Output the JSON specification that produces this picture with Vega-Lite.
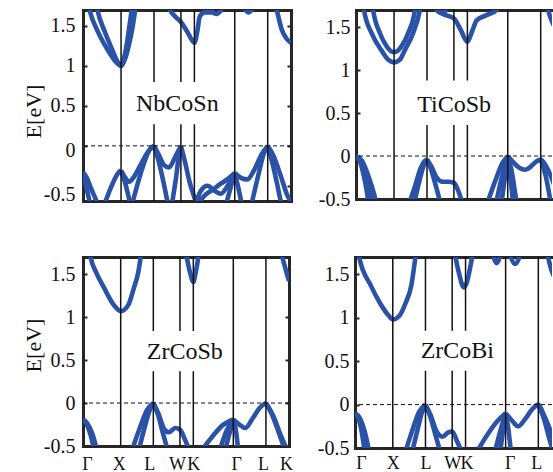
{
"$schema": "https://vega.github.io/schema/vega-lite/v6.json",
"padding": {"left": 22, "top": 9, "right": 0, "bottom": 0},
"config": {"view": {"stroke": null}, "font": "Liberation Serif",
  "axis": {"labelFont": "Liberation Serif", "titleFont": "Liberation Serif", "labelColor": "#111", "titleColor": "#111", "grid": false, "domainColor": "#262626", "domainWidth": 3, "domainCap": "square", "tickColor": "#262626", "tickWidth": 2}},
"datasets": {
"sym": [{"k":1},{"k":1.866},{"k":2.573},{"k":2.927},{"k":3.988},{"k":4.854}],
"nb": [
{"b":"c1","k":0.12,"e":1.8},{"b":"c1","k":0.17,"e":1.7},{"b":"c1","k":0.4,"e":1.42},{"b":"c1","k":0.65,"e":1.2},{"b":"c1","k":0.85,"e":1.06},{"b":"c1","k":1.0,"e":1.0},{"b":"c1","k":1.1,"e":1.08},{"b":"c1","k":1.2,"e":1.25},{"b":"c1","k":1.3,"e":1.48},{"b":"c1","k":1.37,"e":1.7},{"b":"c1","k":1.4,"e":1.8},
{"b":"c2","k":0.34,"e":1.8},{"b":"c2","k":0.38,"e":1.7},{"b":"c2","k":0.58,"e":1.42},{"b":"c2","k":0.77,"e":1.2},{"b":"c2","k":0.9,"e":1.06},{"b":"c2","k":1.0,"e":1.0},{"b":"c2","k":1.08,"e":1.1},{"b":"c2","k":1.16,"e":1.3},{"b":"c2","k":1.22,"e":1.5},{"b":"c2","k":1.28,"e":1.7},{"b":"c2","k":1.31,"e":1.8},
{"b":"c3","k":2.22,"e":1.8},{"b":"c3","k":2.29,"e":1.7},{"b":"c3","k":2.42,"e":1.62},{"b":"c3","k":2.573,"e":1.55},{"b":"c3","k":2.75,"e":1.42},{"b":"c3","k":2.927,"e":1.29},{"b":"c3","k":3.0,"e":1.42},{"b":"c3","k":3.07,"e":1.62},{"b":"c3","k":3.2,"e":1.67},{"b":"c3","k":3.4,"e":1.67},{"b":"c3","k":3.5,"e":1.65},{"b":"c3","k":3.6,"e":1.68},{"b":"c3","k":3.7,"e":1.75},
{"b":"c4","k":4.2,"e":1.75},{"b":"c4","k":4.35,"e":1.67},{"b":"c4","k":4.5,"e":1.75},
{"b":"c5","k":5.0,"e":1.85},{"b":"c5","k":5.09,"e":1.7},{"b":"c5","k":5.22,"e":1.46},{"b":"c5","k":5.35,"e":1.34},{"b":"c5","k":5.466,"e":1.29},
{"b":"v1","k":0,"e":-0.33},{"b":"v1","k":0.1,"e":-0.4},{"b":"v1","k":0.2,"e":-0.52},{"b":"v1","k":0.3,"e":-0.63},{"b":"v1","k":0.4,"e":-0.75},
{"b":"v2","k":0,"e":-0.36},{"b":"v2","k":0.08,"e":-0.5},{"b":"v2","k":0.15,"e":-0.65},{"b":"v2","k":0.2,"e":-0.75},
{"b":"v3","k":0.55,"e":-0.75},{"b":"v3","k":0.7,"e":-0.56},{"b":"v3","k":0.85,"e":-0.4},{"b":"v3","k":0.94,"e":-0.33},{"b":"v3","k":1.0,"e":-0.31},
{"b":"v4","k":1.0,"e":-0.31},{"b":"v4","k":1.1,"e":-0.39},{"b":"v4","k":1.21,"e":-0.45},{"b":"v4","k":1.35,"e":-0.38},{"b":"v4","k":1.5,"e":-0.25},{"b":"v4","k":1.7,"e":-0.08},{"b":"v4","k":1.866,"e":0},
{"b":"v5","k":1.0,"e":-0.31},{"b":"v5","k":1.1,"e":-0.45},{"b":"v5","k":1.18,"e":-0.6},{"b":"v5","k":1.25,"e":-0.75},
{"b":"v6","k":1.28,"e":-0.75},{"b":"v6","k":1.45,"e":-0.45},{"b":"v6","k":1.6,"e":-0.22},{"b":"v6","k":1.75,"e":-0.05},{"b":"v6","k":1.866,"e":0},
{"b":"v7","k":1.866,"e":0},{"b":"v7","k":2.0,"e":-0.12},{"b":"v7","k":2.13,"e":-0.24},{"b":"v7","k":2.26,"e":-0.27},{"b":"v7","k":2.42,"e":-0.14},{"b":"v7","k":2.573,"e":0},
{"b":"v8","k":1.866,"e":0},{"b":"v8","k":1.98,"e":-0.18},{"b":"v8","k":2.1,"e":-0.42},{"b":"v8","k":2.24,"e":-0.75},
{"b":"v9","k":2.33,"e":-0.75},{"b":"v9","k":2.45,"e":-0.38},{"b":"v9","k":2.52,"e":-0.12},{"b":"v9","k":2.573,"e":0},
{"b":"v10","k":2.573,"e":0},{"b":"v10","k":2.68,"e":-0.2},{"b":"v10","k":2.8,"e":-0.45},{"b":"v10","k":2.93,"e":-0.65},{"b":"v10","k":3.0,"e":-0.75},
{"b":"v11","k":2.96,"e":-0.72},{"b":"v11","k":3.1,"e":-0.56},{"b":"v11","k":3.27,"e":-0.5},{"b":"v11","k":3.45,"e":-0.56},{"b":"v11","k":3.62,"e":-0.6},{"b":"v11","k":3.8,"e":-0.5},{"b":"v11","k":3.988,"e":-0.34},
{"b":"v12","k":2.98,"e":-0.75},{"b":"v12","k":3.2,"e":-0.62},{"b":"v12","k":3.44,"e":-0.54},{"b":"v12","k":3.6,"e":-0.48},{"b":"v12","k":3.79,"e":-0.42},{"b":"v12","k":3.988,"e":-0.34},
{"b":"v13","k":3.75,"e":-0.75},{"b":"v13","k":3.88,"e":-0.52},{"b":"v13","k":3.988,"e":-0.34},
{"b":"v14","k":3.988,"e":-0.34},{"b":"v14","k":4.08,"e":-0.52},{"b":"v14","k":4.18,"e":-0.75},
{"b":"v15","k":3.988,"e":-0.34},{"b":"v15","k":4.15,"e":-0.4},{"b":"v15","k":4.32,"e":-0.42},{"b":"v15","k":4.5,"e":-0.3},{"b":"v15","k":4.7,"e":-0.1},{"b":"v15","k":4.854,"e":0},
{"b":"v16","k":4.42,"e":-0.75},{"b":"v16","k":4.6,"e":-0.38},{"b":"v16","k":4.75,"e":-0.1},{"b":"v16","k":4.854,"e":0},
{"b":"v17","k":4.854,"e":0},{"b":"v17","k":5.0,"e":-0.12},{"b":"v17","k":5.2,"e":-0.38},{"b":"v17","k":5.37,"e":-0.62},{"b":"v17","k":5.466,"e":-0.7},
{"b":"v18","k":4.854,"e":0},{"b":"v18","k":4.98,"e":-0.22},{"b":"v18","k":5.12,"e":-0.52},{"b":"v18","k":5.22,"e":-0.75}
],
"ti": [
{"b":"c1","k":0.18,"e":1.8},{"b":"c1","k":0.21,"e":1.7},{"b":"c1","k":0.41,"e":1.43},{"b":"c1","k":0.67,"e":1.23},{"b":"c1","k":0.85,"e":1.12},{"b":"c1","k":1.0,"e":1.09},{"b":"c1","k":1.15,"e":1.12},{"b":"c1","k":1.28,"e":1.23},{"b":"c1","k":1.5,"e":1.43},{"b":"c1","k":1.68,"e":1.7},{"b":"c1","k":1.72,"e":1.8},
{"b":"c2","k":0.42,"e":1.8},{"b":"c2","k":0.45,"e":1.7},{"b":"c2","k":0.63,"e":1.43},{"b":"c2","k":0.8,"e":1.28},{"b":"c2","k":0.92,"e":1.22},{"b":"c2","k":1.0,"e":1.21},{"b":"c2","k":1.08,"e":1.22},{"b":"c2","k":1.2,"e":1.28},{"b":"c2","k":1.37,"e":1.43},{"b":"c2","k":1.55,"e":1.7},{"b":"c2","k":1.58,"e":1.8},
{"b":"c3","k":2.05,"e":1.8},{"b":"c3","k":2.12,"e":1.7},{"b":"c3","k":2.3,"e":1.65},{"b":"c3","k":2.573,"e":1.6},{"b":"c3","k":2.75,"e":1.47},{"b":"c3","k":2.927,"e":1.33},{"b":"c3","k":3.05,"e":1.45},{"b":"c3","k":3.17,"e":1.58},{"b":"c3","k":3.43,"e":1.64},{"b":"c3","k":3.7,"e":1.7},{"b":"c3","k":3.78,"e":1.8},
{"b":"c4","k":2.15,"e":1.75},{"b":"c4","k":2.28,"e":1.66},{"b":"c4","k":2.42,"e":1.75},
{"b":"c5","k":5.0,"e":1.8},{"b":"c5","k":5.05,"e":1.7},{"b":"c5","k":5.12,"e":1.6},{"b":"c5","k":5.2,"e":1.52},{"b":"c5","k":5.32,"e":1.42},{"b":"c5","k":5.466,"e":1.35},
{"b":"v1","k":0,"e":0},{"b":"v1","k":0.1,"e":-0.06},{"b":"v1","k":0.2,"e":-0.22},{"b":"v1","k":0.28,"e":-0.4},{"b":"v1","k":0.33,"e":-0.55},
{"b":"v2","k":0,"e":0},{"b":"v2","k":0.12,"e":-0.06},{"b":"v2","k":0.25,"e":-0.22},{"b":"v2","k":0.35,"e":-0.38},{"b":"v2","k":0.44,"e":-0.55},
{"b":"v3","k":0,"e":0},{"b":"v3","k":0.15,"e":-0.05},{"b":"v3","k":0.3,"e":-0.2},{"b":"v3","k":0.42,"e":-0.36},{"b":"v3","k":0.54,"e":-0.55},
{"b":"v4","k":1.4,"e":-0.55},{"b":"v4","k":1.55,"e":-0.35},{"b":"v4","k":1.7,"e":-0.14},{"b":"v4","k":1.8,"e":-0.06},{"b":"v4","k":1.866,"e":-0.04},
{"b":"v5","k":1.53,"e":-0.55},{"b":"v5","k":1.65,"e":-0.32},{"b":"v5","k":1.77,"e":-0.12},{"b":"v5","k":1.866,"e":-0.04},
{"b":"v6","k":1.866,"e":-0.04},{"b":"v6","k":1.97,"e":-0.15},{"b":"v6","k":2.1,"e":-0.35},{"b":"v6","k":2.22,"e":-0.55},
{"b":"v7","k":1.866,"e":-0.04},{"b":"v7","k":1.98,"e":-0.12},{"b":"v7","k":2.12,"e":-0.25},{"b":"v7","k":2.28,"e":-0.3},{"b":"v7","k":2.42,"e":-0.3},{"b":"v7","k":2.573,"e":-0.31},{"b":"v7","k":2.7,"e":-0.42},{"b":"v7","k":2.8,"e":-0.55},
{"b":"v8","k":3.45,"e":-0.55},{"b":"v8","k":3.65,"e":-0.3},{"b":"v8","k":3.85,"e":-0.08},{"b":"v8","k":3.988,"e":0},
{"b":"v9","k":3.68,"e":-0.55},{"b":"v9","k":3.83,"e":-0.25},{"b":"v9","k":3.988,"e":0},
{"b":"v10","k":3.82,"e":-0.55},{"b":"v10","k":3.91,"e":-0.26},{"b":"v10","k":3.988,"e":0},
{"b":"v11","k":3.988,"e":0},{"b":"v11","k":4.05,"e":-0.22},{"b":"v11","k":4.13,"e":-0.55},
{"b":"v12","k":3.988,"e":0},{"b":"v12","k":4.08,"e":-0.15},{"b":"v12","k":4.22,"e":-0.55},
{"b":"v13","k":3.988,"e":0},{"b":"v13","k":4.15,"e":-0.08},{"b":"v13","k":4.3,"e":-0.14},{"b":"v13","k":4.45,"e":-0.16},{"b":"v13","k":4.6,"e":-0.12},{"b":"v13","k":4.75,"e":-0.06},{"b":"v13","k":4.854,"e":-0.04},{"b":"v13","k":5.0,"e":-0.12},{"b":"v13","k":5.18,"e":-0.3},{"b":"v13","k":5.3,"e":-0.45},{"b":"v13","k":5.4,"e":-0.55},
{"b":"v14","k":4.854,"e":-0.04},{"b":"v14","k":4.98,"e":-0.22},{"b":"v14","k":5.12,"e":-0.55}
],
"zsb": [
{"b":"c1","k":0.16,"e":1.8},{"b":"c1","k":0.2,"e":1.7},{"b":"c1","k":0.34,"e":1.53},{"b":"c1","k":0.56,"e":1.34},{"b":"c1","k":0.82,"e":1.14},{"b":"c1","k":1.0,"e":1.07},{"b":"c1","k":1.2,"e":1.14},{"b":"c1","k":1.35,"e":1.34},{"b":"c1","k":1.47,"e":1.53},{"b":"c1","k":1.53,"e":1.7},{"b":"c1","k":1.56,"e":1.8},
{"b":"c2","k":2.7,"e":1.8},{"b":"c2","k":2.75,"e":1.7},{"b":"c2","k":2.84,"e":1.52},{"b":"c2","k":2.927,"e":1.41},{"b":"c2","k":2.99,"e":1.52},{"b":"c2","k":3.06,"e":1.7},{"b":"c2","k":3.09,"e":1.8},
{"b":"c3","k":5.24,"e":1.8},{"b":"c3","k":5.29,"e":1.7},{"b":"c3","k":5.38,"e":1.55},{"b":"c3","k":5.466,"e":1.42},
{"b":"v1","k":0,"e":-0.19},{"b":"v1","k":0.1,"e":-0.25},{"b":"v1","k":0.2,"e":-0.37},{"b":"v1","k":0.3,"e":-0.55},
{"b":"v2","k":0,"e":-0.19},{"b":"v2","k":0.12,"e":-0.24},{"b":"v2","k":0.25,"e":-0.36},{"b":"v2","k":0.37,"e":-0.55},
{"b":"v3","k":1.3,"e":-0.55},{"b":"v3","k":1.5,"e":-0.3},{"b":"v3","k":1.7,"e":-0.08},{"b":"v3","k":1.866,"e":0},
{"b":"v4","k":1.48,"e":-0.55},{"b":"v4","k":1.65,"e":-0.26},{"b":"v4","k":1.78,"e":-0.07},{"b":"v4","k":1.866,"e":0},
{"b":"v5","k":1.866,"e":0},{"b":"v5","k":2.0,"e":-0.15},{"b":"v5","k":2.12,"e":-0.35},{"b":"v5","k":2.25,"e":-0.55},
{"b":"v6","k":1.866,"e":0},{"b":"v6","k":2.0,"e":-0.12},{"b":"v6","k":2.15,"e":-0.3},{"b":"v6","k":2.28,"e":-0.34},{"b":"v6","k":2.45,"e":-0.29},{"b":"v6","k":2.573,"e":-0.31},{"b":"v6","k":2.7,"e":-0.42},{"b":"v6","k":2.82,"e":-0.55},
{"b":"v7","k":3.15,"e":-0.55},{"b":"v7","k":3.45,"e":-0.38},{"b":"v7","k":3.7,"e":-0.26},{"b":"v7","k":3.988,"e":-0.19},
{"b":"v8","k":3.63,"e":-0.55},{"b":"v8","k":3.8,"e":-0.33},{"b":"v8","k":3.988,"e":-0.19},
{"b":"v9","k":3.77,"e":-0.55},{"b":"v9","k":3.9,"e":-0.33},{"b":"v9","k":3.988,"e":-0.19},
{"b":"v10","k":3.988,"e":-0.19},{"b":"v10","k":4.05,"e":-0.3},{"b":"v10","k":4.12,"e":-0.55},
{"b":"v11","k":3.988,"e":-0.19},{"b":"v11","k":4.15,"e":-0.25},{"b":"v11","k":4.31,"e":-0.29},{"b":"v11","k":4.5,"e":-0.18},{"b":"v11","k":4.7,"e":-0.05},{"b":"v11","k":4.854,"e":0},
{"b":"v12","k":4.854,"e":0},{"b":"v12","k":5.0,"e":-0.12},{"b":"v12","k":5.2,"e":-0.35},{"b":"v12","k":5.36,"e":-0.55},
{"b":"v13","k":4.854,"e":0},{"b":"v13","k":5.05,"e":-0.15},{"b":"v13","k":5.25,"e":-0.38},{"b":"v13","k":5.42,"e":-0.55}
],
"zbi": [
{"b":"c1","k":0.07,"e":1.8},{"b":"c1","k":0.11,"e":1.7},{"b":"c1","k":0.42,"e":1.37},{"b":"c1","k":0.66,"e":1.17},{"b":"c1","k":0.9,"e":1.02},{"b":"c1","k":1.0,"e":0.98},{"b":"c1","k":1.17,"e":1.02},{"b":"c1","k":1.34,"e":1.17},{"b":"c1","k":1.49,"e":1.37},{"b":"c1","k":1.6,"e":1.7},{"b":"c1","k":1.63,"e":1.8},
{"b":"c2","k":2.62,"e":1.8},{"b":"c2","k":2.66,"e":1.7},{"b":"c2","k":2.75,"e":1.52},{"b":"c2","k":2.88,"e":1.35},{"b":"c2","k":2.97,"e":1.42},{"b":"c2","k":3.04,"e":1.56},{"b":"c2","k":3.1,"e":1.7},{"b":"c2","k":3.13,"e":1.8},
{"b":"c3","k":3.63,"e":1.76},{"b":"c3","k":3.75,"e":1.63},{"b":"c3","k":3.87,"e":1.76},
{"b":"c4","k":4.08,"e":1.76},{"b":"c4","k":4.24,"e":1.62},{"b":"c4","k":4.4,"e":1.76},
{"b":"c5","k":5.05,"e":1.8},{"b":"c5","k":5.11,"e":1.7},{"b":"c5","k":5.2,"e":1.55},{"b":"c5","k":5.3,"e":1.45},{"b":"c5","k":5.466,"e":1.35},
{"b":"v1","k":0,"e":-0.1},{"b":"v1","k":0.1,"e":-0.17},{"b":"v1","k":0.18,"e":-0.32},{"b":"v1","k":0.26,"e":-0.55},
{"b":"v2","k":0,"e":-0.1},{"b":"v2","k":0.12,"e":-0.15},{"b":"v2","k":0.25,"e":-0.3},{"b":"v2","k":0.38,"e":-0.55},
{"b":"v3","k":1.33,"e":-0.55},{"b":"v3","k":1.5,"e":-0.32},{"b":"v3","k":1.7,"e":-0.08},{"b":"v3","k":1.866,"e":0},
{"b":"v4","k":1.51,"e":-0.55},{"b":"v4","k":1.65,"e":-0.3},{"b":"v4","k":1.78,"e":-0.08},{"b":"v4","k":1.866,"e":0},
{"b":"v5","k":1.866,"e":0},{"b":"v5","k":2.0,"e":-0.15},{"b":"v5","k":2.13,"e":-0.35},{"b":"v5","k":2.26,"e":-0.55},
{"b":"v6","k":1.866,"e":0},{"b":"v6","k":2.0,"e":-0.12},{"b":"v6","k":2.15,"e":-0.3},{"b":"v6","k":2.32,"e":-0.37},{"b":"v6","k":2.47,"e":-0.32},{"b":"v6","k":2.573,"e":-0.31},{"b":"v6","k":2.7,"e":-0.42},{"b":"v6","k":2.83,"e":-0.55},
{"b":"v7","k":3.22,"e":-0.55},{"b":"v7","k":3.5,"e":-0.35},{"b":"v7","k":3.75,"e":-0.2},{"b":"v7","k":3.988,"e":-0.1},
{"b":"v8","k":3.7,"e":-0.55},{"b":"v8","k":3.85,"e":-0.3},{"b":"v8","k":3.988,"e":-0.1},
{"b":"v9","k":3.84,"e":-0.55},{"b":"v9","k":3.92,"e":-0.3},{"b":"v9","k":3.988,"e":-0.1},
{"b":"v10","k":3.988,"e":-0.1},{"b":"v10","k":4.05,"e":-0.25},{"b":"v10","k":4.13,"e":-0.55},
{"b":"v11","k":3.988,"e":-0.1},{"b":"v11","k":4.15,"e":-0.18},{"b":"v11","k":4.32,"e":-0.25},{"b":"v11","k":4.5,"e":-0.17},{"b":"v11","k":4.7,"e":-0.05},{"b":"v11","k":4.854,"e":0},{"b":"v11","k":5.0,"e":-0.12},{"b":"v11","k":5.24,"e":-0.37},{"b":"v11","k":5.4,"e":-0.55},
{"b":"v12","k":4.854,"e":0},{"b":"v12","k":5.0,"e":-0.16},{"b":"v12","k":5.15,"e":-0.4},{"b":"v12","k":5.25,"e":-0.55}
]
},
"spacing": 47,
"vconcat": [
{"hconcat": [
 {"width": 208, "height": 191,
  "layer": [
   {"data": {"name": "nb"}, "mark": {"type": "line", "color": "#2a52a6", "strokeWidth": 4.6, "clip": true, "interpolate": "monotone"},
    "encoding": {
     "x": {"field": "k", "type": "quantitative", "scale": {"domain": [0, 5.466], "nice": false, "zero": false},
       "axis": {"orient": "bottom", "labels": false, "ticks": false, "title": null}},
     "y": {"field": "e", "type": "quantitative", "scale": {"domain": [-0.69, 1.7], "nice": false, "zero": false},
       "axis": {"orient": "left", "values": [-0.5, 0, 0.5, 1, 1.5], "labelExpr": "datum.value < 0 ? '-0.5' : datum.value == 0 ? '0' : datum.value == 0.5 ? '0.5' : datum.value == 1 ? '1' : '1.5'",
         "labelOffset": {"condition": [{"test": "datum.value < 0", "value": 9}, {"test": "datum.value == 0", "value": 5}], "value": 0},
         "tickSize": -4, "labelPadding": 12, "labelFontSize": 20, "title": "E[eV]", "titleFontSize": 22, "titleFontWeight": "normal", "titlePadding": -2.5, "titleY": 101}},
     "detail": {"field": "b"}}},
   {"data": {"name": "sym"}, "mark": {"type": "rule", "color": "#111", "strokeWidth": 1.5},
    "encoding": {"x": {"field": "k", "type": "quantitative", "axis": null}}},
   {"data": {"values": [{}]}, "mark": {"type": "rule", "color": "#111", "strokeWidth": 1, "strokeDash": [4, 3]},
    "encoding": {"y": {"datum": 0, "axis": null}}},
   {"data": {"values": [{}]}, "mark": {"type": "rect", "color": "white"},
    "encoding": {"x": {"datum": 1.25, "axis": null}, "x2": {"datum": 3.72}, "y": {"datum": 0.8, "axis": null}, "y2": {"datum": 0.27}}},
   {"data": {"values": [{}]}, "mark": {"type": "text", "fontSize": 24, "font": "Liberation Serif", "color": "#111"},
    "encoding": {"x": {"datum": 2.48, "axis": null}, "y": {"datum": 0.53, "axis": null}, "text": {"value": "NbCoSn"}}},
   {"data": {"values": [{}]}, "mark": {"type": "point", "opacity": 0},
    "encoding": {"x": {"datum": 2, "axis": {"orient": "top", "labels": false, "ticks": false, "title": null}},
                 "y": {"datum": 0.5, "axis": {"orient": "right", "values": [-0.5, 0, 0.5, 1, 1.5], "labels": false, "tickSize": -4, "title": null}}}}
  ],
  "resolve": {"axis": {"x": "independent", "y": "independent"}}},
 {"width": 196, "height": 189,
  "layer": [
   {"data": {"name": "ti"}, "mark": {"type": "line", "color": "#2a52a6", "strokeWidth": 4.6, "clip": true, "interpolate": "monotone"},
    "encoding": {
     "x": {"field": "k", "type": "quantitative", "scale": {"domain": [0, 5.151], "nice": false, "zero": false},
       "axis": {"orient": "bottom", "labels": false, "ticks": false, "title": null}},
     "y": {"field": "e", "type": "quantitative", "scale": {"domain": [-0.5, 1.7], "nice": false, "zero": false},
       "axis": {"orient": "left", "values": [-0.5, 0, 0.5, 1, 1.5], "labelExpr": "datum.value < 0 ? '-0.5' : datum.value == 0 ? '0' : datum.value == 0.5 ? '0.5' : datum.value == 1 ? '1' : '1.5'", "tickSize": -4, "labelPadding": 10, "labelFontSize": 20, "title": null}},
     "detail": {"field": "b"}}},
   {"data": {"name": "sym"}, "mark": {"type": "rule", "color": "#111", "strokeWidth": 1.5},
    "encoding": {"x": {"field": "k", "type": "quantitative", "axis": null}}},
   {"data": {"values": [{}]}, "mark": {"type": "rule", "color": "#111", "strokeWidth": 1, "strokeDash": [4, 3]},
    "encoding": {"y": {"datum": 0, "axis": null}}},
   {"data": {"values": [{}]}, "mark": {"type": "rect", "color": "white"},
    "encoding": {"x": {"datum": 1.47, "axis": null}, "x2": {"datum": 3.7}, "y": {"datum": 0.88, "axis": null}, "y2": {"datum": 0.36}}},
   {"data": {"values": [{}]}, "mark": {"type": "text", "fontSize": 24, "font": "Liberation Serif", "color": "#111"},
    "encoding": {"x": {"datum": 2.58, "axis": null}, "y": {"datum": 0.6, "axis": null}, "text": {"value": "TiCoSb"}}},
   {"data": {"values": [{}]}, "mark": {"type": "point", "opacity": 0},
    "encoding": {"x": {"datum": 2, "axis": {"orient": "top", "labels": false, "ticks": false, "title": null}},
                 "y": {"datum": 0.5, "axis": null}}}
  ],
  "resolve": {"axis": {"x": "independent", "y": "independent"}}}
 ], "spacing": 26},
{"hconcat": [
 {"width": 206, "height": 189,
  "layer": [
   {"data": {"name": "zsb"}, "mark": {"type": "line", "color": "#2a52a6", "strokeWidth": 4.6, "clip": true, "interpolate": "monotone"},
    "encoding": {
     "x": {"field": "k", "type": "quantitative", "scale": {"domain": [0, 5.466], "nice": false, "zero": false},
       "axis": {"orient": "bottom", "values": [0, 1, 1.866, 2.573, 2.927, 3.988, 4.854, 5.466], "labelExpr": "datum.value < 0.5 ? 'Γ' : datum.value < 1.5 ? 'X' : datum.value < 2.2 ? 'L' : datum.value < 2.75 ? 'W' : datum.value < 3.5 ? 'K' : datum.value < 4.4 ? 'Γ' : datum.value < 5.2 ? 'L' : 'K'",
         "labelOffset": {"condition": [{"test": "datum.value < 0.5", "value": 4}, {"test": "datum.value > 0.5 && datum.value < 1.5", "value": -2}, {"test": "datum.value > 1.5 && datum.value < 2.2", "value": -4}, {"test": "datum.value > 2.2 && datum.value < 2.75", "value": -3}, {"test": "datum.value > 3.5 && datum.value < 4.4", "value": 3}, {"test": "datum.value > 4.4", "value": -3}], "value": 0},
         "ticks": false, "labelFontSize": 18, "labelPadding": 9, "labelFlush": false, "labelOverlap": false, "title": null}},
     "y": {"field": "e", "type": "quantitative", "scale": {"domain": [-0.5, 1.7], "nice": false, "zero": false},
       "axis": {"orient": "left", "values": [-0.5, 0, 0.5, 1, 1.5], "labelExpr": "datum.value < 0 ? '-0.5' : datum.value == 0 ? '0' : datum.value == 0.5 ? '0.5' : datum.value == 1 ? '1' : '1.5'", "tickSize": -4, "labelPadding": 12, "labelFontSize": 20, "title": "E[eV]", "titleFontSize": 22, "titleFontWeight": "normal", "titlePadding": -2.5, "titleY": 88}},
     "detail": {"field": "b"}}},
   {"data": {"name": "sym"}, "mark": {"type": "rule", "color": "#111", "strokeWidth": 1.5},
    "encoding": {"x": {"field": "k", "type": "quantitative", "axis": null}}},
   {"data": {"values": [{}]}, "mark": {"type": "rule", "color": "#111", "strokeWidth": 1, "strokeDash": [4, 3]},
    "encoding": {"y": {"datum": 0, "axis": null}}},
   {"data": {"values": [{}]}, "mark": {"type": "rect", "color": "white"},
    "encoding": {"x": {"datum": 1.53, "axis": null}, "x2": {"datum": 3.87}, "y": {"datum": 0.84, "axis": null}, "y2": {"datum": 0.37}}},
   {"data": {"values": [{}]}, "mark": {"type": "text", "fontSize": 24, "font": "Liberation Serif", "color": "#111"},
    "encoding": {"x": {"datum": 2.7, "axis": null}, "y": {"datum": 0.6, "axis": null}, "text": {"value": "ZrCoSb"}}},
   {"data": {"values": [{}]}, "mark": {"type": "point", "opacity": 0},
    "encoding": {"x": {"datum": 2, "axis": {"orient": "top", "labels": false, "ticks": false, "title": null}},
                 "y": {"datum": 0.5, "axis": {"orient": "right", "values": [-0.5, 0, 0.5, 1, 1.5], "labels": false, "tickSize": -4, "title": null}}}}
  ],
  "resolve": {"axis": {"x": "independent", "y": "independent"}}},
 {"width": 197, "height": 191,
  "layer": [
   {"data": {"name": "zbi"}, "mark": {"type": "line", "color": "#2a52a6", "strokeWidth": 4.6, "clip": true, "interpolate": "monotone"},
    "encoding": {
     "x": {"field": "k", "type": "quantitative", "scale": {"domain": [0, 5.216], "nice": false, "zero": false},
       "axis": {"orient": "bottom", "values": [0, 1, 1.866, 2.573, 2.927, 3.988, 4.854], "labelExpr": "datum.value < 0.5 ? 'Γ' : datum.value < 1.5 ? 'X' : datum.value < 2.2 ? 'L' : datum.value < 2.75 ? 'W' : datum.value < 3.5 ? 'K' : datum.value < 4.4 ? 'Γ' : datum.value < 5.2 ? 'L' : 'K'",
         "labelOffset": {"condition": [{"test": "datum.value < 0.5", "value": 6}, {"test": "datum.value > 2.8 && datum.value < 3.5", "value": 1}, {"test": "datum.value > 3.5 && datum.value < 4.4", "value": 4}, {"test": "datum.value > 4.4", "value": -2}], "value": 0},
         "ticks": false, "labelFontSize": 18, "labelPadding": 6, "labelFlush": false, "labelOverlap": false, "title": null}},
     "y": {"field": "e", "type": "quantitative", "scale": {"domain": [-0.5, 1.7], "nice": false, "zero": false},
       "axis": {"orient": "left", "values": [-0.5, 0, 0.5, 1, 1.5], "labelExpr": "datum.value < 0 ? '-0.5' : datum.value == 0 ? '0' : datum.value == 0.5 ? '0.5' : datum.value == 1 ? '1' : '1.5'", "tickSize": -4, "labelPadding": 10, "labelFontSize": 20, "title": null}},
     "detail": {"field": "b"}}},
   {"data": {"name": "sym"}, "mark": {"type": "rule", "color": "#111", "strokeWidth": 1.5},
    "encoding": {"x": {"field": "k", "type": "quantitative", "axis": null}}},
   {"data": {"values": [{}]}, "mark": {"type": "rule", "color": "#111", "strokeWidth": 1, "strokeDash": [4, 3]},
    "encoding": {"y": {"datum": 0, "axis": null}}},
   {"data": {"values": [{}]}, "mark": {"type": "rect", "color": "white"},
    "encoding": {"x": {"datum": 1.56, "axis": null}, "x2": {"datum": 3.86}, "y": {"datum": 0.85, "axis": null}, "y2": {"datum": 0.39}}},
   {"data": {"values": [{}]}, "mark": {"type": "text", "fontSize": 24, "font": "Liberation Serif", "color": "#111"},
    "encoding": {"x": {"datum": 2.71, "axis": null}, "y": {"datum": 0.62, "axis": null}, "text": {"value": "ZrCoBi"}}},
   {"data": {"values": [{}]}, "mark": {"type": "point", "opacity": 0},
    "encoding": {"x": {"datum": 2, "axis": {"orient": "top", "labels": false, "ticks": false, "title": null}},
                 "y": {"datum": 0.5, "axis": null}}}
  ],
  "resolve": {"axis": {"x": "independent", "y": "independent"}}}
 ], "spacing": 24}
]
}
